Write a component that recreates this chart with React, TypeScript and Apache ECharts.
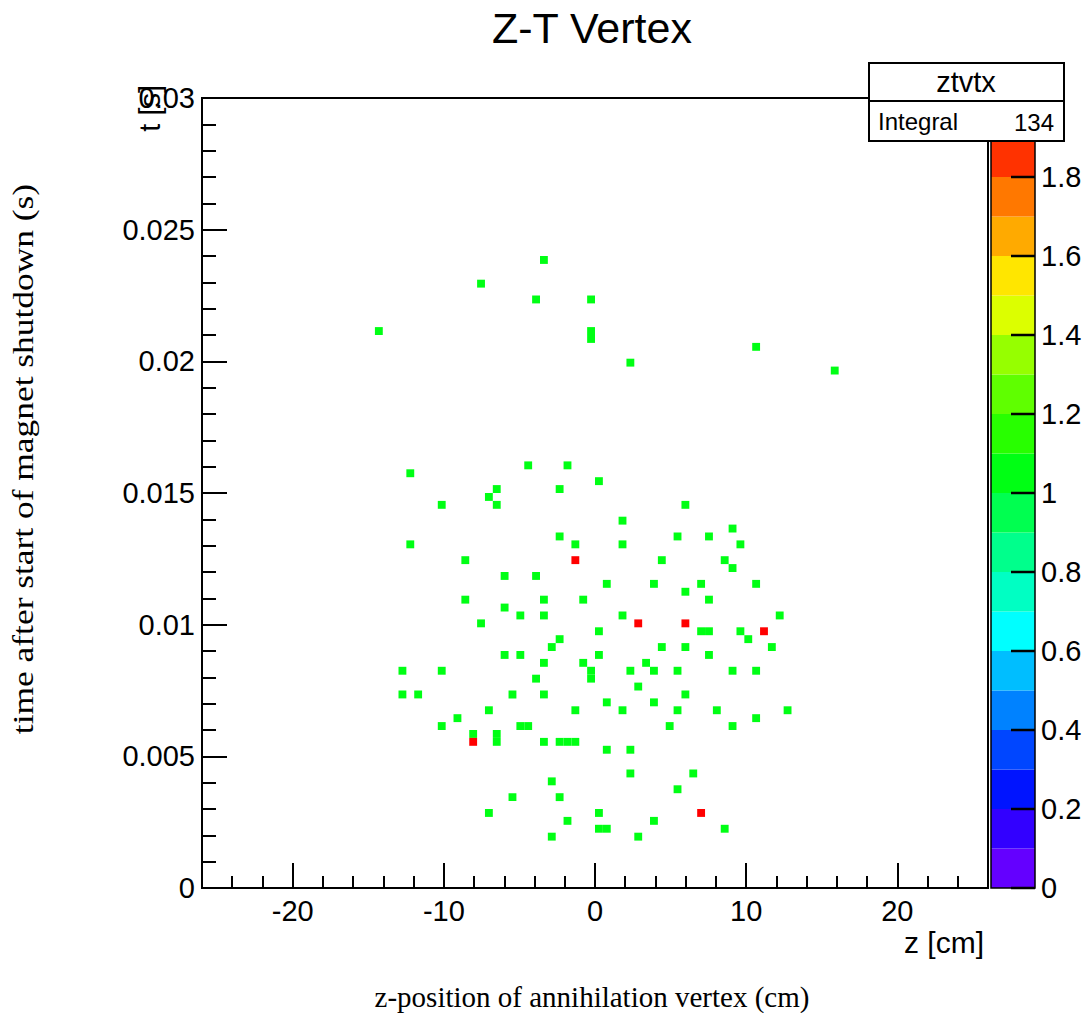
import React, { useEffect, useRef } from "react";
import * as echarts from "echarts";

// ---- axis ranges / binning (ROOT TH2 with 100 x 100 bins) ----
const Z_MIN = -26;
const Z_MAX = 26;
const Z_BIN = 0.52;
const T_MIN = 0;
const T_MAX = 0.03;
const T_BIN = 0.0003;
const T_TICK = 0.005;

const X_MAJOR_TICKS = [-20, -10, 0, 10, 20];
const X_MINOR_TICKS = [-24, -22, -18, -16, -14, -12, -8, -6, -4, -2, 2, 4, 6, 8, 12, 14, 16, 18, 22, 24];

// ---- colour palette (20 contours from 0 to 2) ----
const PALETTE_COLORS = [
  "#6400FF", "#3200FF", "#0014FF", "#0046FF", "#0082FF",
  "#00BEFF", "#00FFFF", "#00FFC3", "#00FF8C", "#00FF50",
  "#00FF14", "#28FF00", "#5FFF00", "#96FF00", "#DCFF00",
  "#FFE600", "#FFAA00", "#FF7800", "#FF3200", "#FF0000",
];
const PALETTE_MAX = 2;
const PALETTE_TICK = 0.2;
const PALETTE_TICK_VALUES = [0, 0.2, 0.4, 0.6, 0.8, 1, 1.2, 1.4, 1.6, 1.8];

// ---- bin contents: [z centre (cm), t centre (s), entries] ----
const upperCells = [
  [-3.38, 0.02385, 1], [-7.54, 0.02295, 1], [-3.9, 0.02235, 1], [-0.26, 0.02235, 1],
  [-14.3, 0.02115, 1], [-0.26, 0.02115, 1], [-0.26, 0.02085, 1], [2.34, 0.01995, 1],
  [10.66, 0.02055, 1], [15.86, 0.01965, 1],
];

const highCells = [
  [-12.22, 0.01575, 1], [-4.42, 0.01605, 1], [-1.82, 0.01605, 1], [0.26, 0.01545, 1],
  [-6.5, 0.01515, 1], [-2.34, 0.01515, 1], [-7.02, 0.01485, 1], [-10.14, 0.01455, 1],
  [-6.5, 0.01455, 1], [5.98, 0.01455, 1], [1.82, 0.01395, 1], [9.1, 0.01365, 1],
  [-2.34, 0.01335, 1], [5.46, 0.01335, 1], [7.54, 0.01335, 1], [-12.22, 0.01305, 1],
  [-1.3, 0.01305, 1], [1.82, 0.01305, 1], [9.62, 0.01305, 1], [-8.58, 0.01245, 1],
  [-1.3, 0.01245, 2], [4.42, 0.01245, 1], [8.58, 0.01245, 1], [9.1, 0.01215, 1],
  [-5.98, 0.01185, 1], [-3.9, 0.01185, 1], [0.78, 0.01155, 1], [3.9, 0.01155, 1],
  [7.02, 0.01155, 1], [10.66, 0.01155, 1], [5.98, 0.01125, 1], [7.54, 0.01095, 1],
  [-8.58, 0.01095, 1], [-3.38, 0.01095, 1], [-0.78, 0.01095, 1],
];

const midCells = [
  [-5.98, 0.01065, 1], [-4.94, 0.01035, 1], [-3.38, 0.01035, 1], [1.82, 0.01035, 1],
  [12.22, 0.01035, 1], [-7.54, 0.01005, 1], [2.86, 0.01005, 2], [5.98, 0.01005, 2],
  [0.26, 0.00975, 1], [7.02, 0.00975, 1], [7.54, 0.00975, 1], [9.62, 0.00975, 1],
  [11.18, 0.00975, 2], [-2.34, 0.00945, 1], [10.14, 0.00945, 1], [-2.86, 0.00915, 1],
  [4.42, 0.00915, 1], [5.98, 0.00915, 1], [11.7, 0.00915, 1], [-5.98, 0.00885, 1],
  [-4.94, 0.00885, 1], [0.26, 0.00885, 1], [7.54, 0.00885, 1], [-3.38, 0.00855, 1],
  [-0.78, 0.00855, 1], [3.38, 0.00855, 1], [-12.74, 0.00825, 1], [-10.14, 0.00825, 1],
  [-0.26, 0.00825, 1], [-0.26, 0.00795, 1], [2.34, 0.00825, 1], [3.9, 0.00825, 1],
  [5.46, 0.00825, 1], [9.1, 0.00825, 1], [10.66, 0.00825, 1], [-3.9, 0.00795, 1],
  [2.86, 0.00765, 1], [-12.74, 0.00735, 1], [-11.7, 0.00735, 1], [-5.46, 0.00735, 1],
  [-3.38, 0.00735, 1], [5.98, 0.00735, 1], [0.78, 0.00705, 1], [3.9, 0.00705, 1],
  [-7.02, 0.00675, 1], [-1.3, 0.00675, 1], [1.82, 0.00675, 1], [5.46, 0.00675, 1],
  [8.06, 0.00675, 1], [12.74, 0.00675, 1], [-9.1, 0.00645, 1], [10.66, 0.00645, 1],
  [-10.14, 0.00615, 1], [-4.94, 0.00615, 1], [-4.42, 0.00615, 1], [4.94, 0.00615, 1],
  [9.1, 0.00615, 1],
];

const lowCells = [
  [-8.06, 0.00585, 1], [-8.06, 0.00555, 2], [-6.5, 0.00585, 1], [-6.5, 0.00555, 1],
  [-3.38, 0.00555, 1], [-2.34, 0.00555, 1], [-1.82, 0.00555, 1], [-1.3, 0.00555, 1],
  [0.78, 0.00525, 1], [2.34, 0.00525, 1], [2.34, 0.00435, 1], [6.5, 0.00435, 1],
  [-2.86, 0.00405, 1], [5.46, 0.00375, 1], [-5.46, 0.00345, 1], [-2.34, 0.00345, 1],
  [-7.02, 0.00285, 1], [0.26, 0.00285, 1], [7.02, 0.00285, 2], [-1.82, 0.00255, 1],
  [3.9, 0.00255, 1], [0.26, 0.00225, 1], [0.78, 0.00225, 1], [8.58, 0.00225, 1],
  [-2.86, 0.00195, 1], [2.86, 0.00195, 1],
];

const HIST_NAME = "ztvtx";
const TITLE = "Z-T Vertex";
const X_AXIS_TITLE = "z [cm]";
const Y_AXIS_TITLE = "t [s]";
const X_OUTER_TITLE = "z-position of annihilation vertex (cm)";
const Y_OUTER_TITLE = "time after start of magnet shutdown (s)";

const SANS = "'Liberation Sans', Arial, Helvetica, sans-serif";
const SERIF = "'Liberation Serif', 'Times New Roman', serif";

// palette box geometry
const PAL_LEFT = 991;
const PAL_WIDTH = 44;
const PAL_TOP = 98;
const PAL_HEIGHT = 790;

export default function App() {
  const ref = useRef<HTMLDivElement>(null);

  useEffect(() => {
    document.body.style.margin = "0";
    if (!ref.current) return;
    const chart = echarts.init(ref.current, null, { renderer: "svg" });

    const cells = [...upperCells, ...highCells, ...midCells, ...lowCells];
    const integral = cells.reduce((s, c) => s + c[2], 0);

    const nBands = PALETTE_COLORS.length;
    const step = PALETTE_MAX / nBands;
    const pieces: any[] = PALETTE_COLORS.map((color, k) => {
      const p: any = { gte: k * step, color };
      if (k === nBands - 1) p.lte = PALETTE_MAX;
      else p.lt = (k + 1) * step;
      return p;
    });
    const bands = PALETTE_COLORS.map((_, k) => [k * step, (k + 1) * step]);

    const tickLine = { color: "#000", width: 2 };
    const labelStyle = { fontSize: 29, fontFamily: SANS, color: "#000" };
    const noLine = { show: false, onZero: false };

    const baseGraphic: any[] = [
      {
        id: "title", type: "text", x: 592, y: 28, z: 100,
        style: { text: TITLE, fontSize: 43, fontFamily: SANS, fill: "#000", align: "center", verticalAlign: "middle" },
      },
      {
        id: "stats", type: "group", z: 100,
        children: [
          { type: "rect", z: 100, shape: { x: 869, y: 63, width: 195, height: 78 }, style: { fill: "#fff", stroke: "#000", lineWidth: 2 } },
          { type: "line", z: 101, shape: { x1: 869, y1: 101, x2: 1064, y2: 101 }, style: { stroke: "#000", lineWidth: 2 } },
          { type: "text", z: 101, x: 966, y: 82, style: { text: HIST_NAME, fontSize: 29, fontFamily: SANS, fill: "#000", align: "center", verticalAlign: "middle" } },
          { type: "text", z: 101, x: 878, y: 121, style: { text: "Integral", fontSize: 24, fontFamily: SANS, fill: "#000", align: "left", verticalAlign: "middle" } },
          { type: "text", z: 101, x: 1054, y: 122, style: { text: String(integral), fontSize: 24, fontFamily: SANS, fill: "#000", align: "right", verticalAlign: "middle" } },
        ],
      },
      {
        id: "ytitle", type: "text", x: 150, y: 85, rotation: Math.PI / 2, z: 50,
        style: { text: Y_AXIS_TITLE, fontSize: 29, fontFamily: SANS, fill: "#000", align: "right", verticalAlign: "middle" },
      },
      {
        id: "xtitle", type: "text", x: 984, y: 942, z: 50,
        style: { text: X_AXIS_TITLE, fontSize: 30, fontFamily: SANS, fill: "#000", align: "right", verticalAlign: "middle" },
      },
      {
        id: "youter", type: "text", x: 23, y: 459, rotation: Math.PI / 2, scaleX: 1.18, z: 50,
        style: { text: Y_OUTER_TITLE, fontSize: 30, fontFamily: SERIF, fill: "#000", align: "center", verticalAlign: "middle" },
      },
      {
        id: "xouter", type: "text", x: 592, y: 997, z: 50,
        style: { text: X_OUTER_TITLE, fontSize: 29, fontFamily: SERIF, fill: "#000", align: "center", verticalAlign: "middle" },
      },
    ];

    const option: any = {
      animation: false,
      backgroundColor: "#fff",
      visualMap: {
        type: "piecewise",
        show: false,
        seriesIndex: 0,
        dimension: 2,
        pieces,
      },
      grid: [
        { left: 202, top: 98, width: 786, height: 790, show: true, borderColor: "#000", borderWidth: 2, backgroundColor: "transparent" },
        { left: PAL_LEFT, top: PAL_TOP, width: PAL_WIDTH, height: PAL_HEIGHT, show: true, borderColor: "#000", borderWidth: 1.5, backgroundColor: "transparent", z: 20 },
      ],
      xAxis: [
        {
          gridIndex: 0, type: "value", position: "bottom", min: Z_MIN, max: Z_MAX,
          axisLine: noLine, splitLine: { show: false },
          axisTick: { show: true, inside: true, length: 25, customValues: X_MAJOR_TICKS, lineStyle: tickLine },
          axisLabel: { ...labelStyle, margin: 8, customValues: X_MAJOR_TICKS },
        },
        {
          gridIndex: 0, type: "value", position: "bottom", min: Z_MIN, max: Z_MAX,
          axisLine: noLine, splitLine: { show: false },
          axisTick: { show: true, inside: true, length: 12, customValues: X_MINOR_TICKS, lineStyle: tickLine },
          axisLabel: { show: false },
        },
        { gridIndex: 1, type: "value", min: 0, max: 1, show: false },
      ],
      yAxis: [
        {
          gridIndex: 0, type: "value", position: "left", min: T_MIN, max: T_MAX, interval: T_TICK,
          axisLine: noLine, splitLine: { show: false },
          axisTick: { show: true, inside: true, length: 25, lineStyle: tickLine },
          minorTick: { show: true, splitNumber: 5, length: 14, lineStyle: tickLine },
          axisLabel: { ...labelStyle, margin: 7 },
        },
        {
          gridIndex: 1, type: "value", position: "right", min: 0, max: PALETTE_MAX, interval: PALETTE_TICK,
          axisLine: noLine, splitLine: { show: false },
          axisTick: { show: false },
          axisLabel: { ...labelStyle, margin: 6, showMaxLabel: false },
        },
      ],
      series: [
        {
          type: "custom",
          xAxisIndex: 0,
          yAxisIndex: 0,
          data: cells,
          encode: { x: 0, y: 1 },
          renderItem: (params: any, api: any) => {
            const z = api.value(0);
            const t = api.value(1);
            const p = api.coord([z - Z_BIN / 2, t + T_BIN / 2]);
            const s = api.size([Z_BIN, T_BIN]);
            return {
              type: "rect",
              shape: { x: p[0], y: p[1], width: s[0], height: s[1] },
              style: { fill: api.visual("color") },
            };
          },
        },
        {
          type: "custom",
          xAxisIndex: 2,
          yAxisIndex: 1,
          z: -1,
          data: bands,
          encode: { y: [0, 1] },
          renderItem: (params: any, api: any) => {
            const lo = api.value(0);
            const hi = api.value(1);
            const p0 = api.coord([0, hi]);
            const p1 = api.coord([1, lo]);
            return {
              type: "rect",
              shape: { x: p0[0], y: p0[1], width: p1[0] - p0[0], height: p1[1] - p0[1] },
              style: { fill: PALETTE_COLORS[params.dataIndex] },
            };
          },
        },
      ],
      graphic: baseGraphic,
    };

    chart.setOption(option);

    // palette tick marks, placed through the palette grid's own scale
    const tickGraphic = PALETTE_TICK_VALUES.map((v, i) => {
      let pt: any = null;
      try {
        pt = chart.convertToPixel({ gridIndex: 1 } as any, [1, v]);
      } catch (e) {
        pt = null;
      }
      let x = pt && isFinite(pt[0]) ? pt[0] : PAL_LEFT + PAL_WIDTH;
      let y = pt && isFinite(pt[1]) ? pt[1] : PAL_TOP + PAL_HEIGHT * (1 - v / PALETTE_MAX);
      return {
        id: "ptick" + i,
        type: "line",
        z: 90,
        silent: true,
        shape: { x1: x - 24, y1: y, x2: x, y2: y },
        style: { stroke: "#000", lineWidth: 2.5 },
      };
    });
    chart.setOption({ graphic: [...baseGraphic, ...tickGraphic] });

    return () => chart.dispose();
  }, []);

  return <div ref={ref} style={{ width: 1088, height: 1013 }} />;
}
